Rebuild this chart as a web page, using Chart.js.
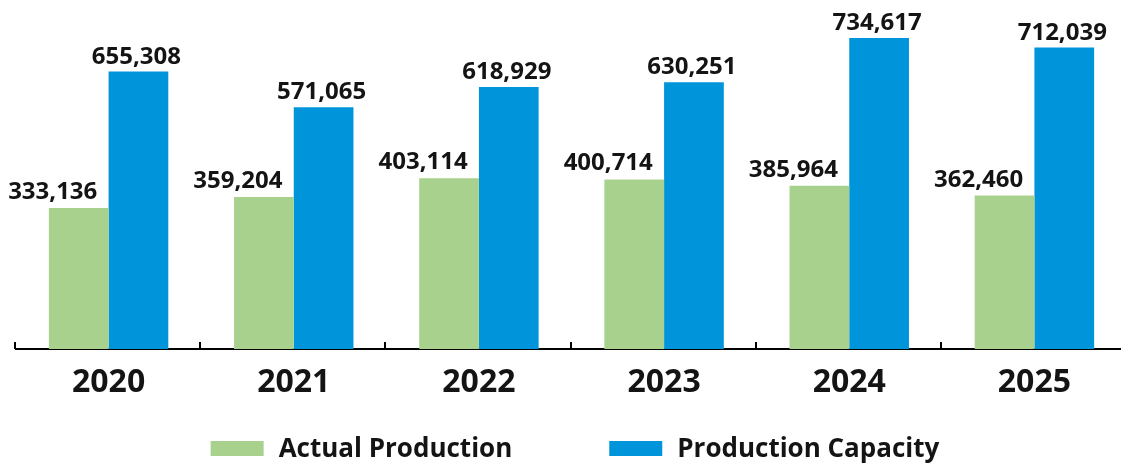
<!DOCTYPE html>
<html>
<head>
<meta charset="utf-8">
<script src="https://cdn.jsdelivr.net/npm/chart.js@4.4.1/dist/chart.umd.min.js"></script>
<style>
  html, body { margin: 0; padding: 0; background: #ffffff; overflow: hidden; }
  #wrap { width: 1150px; height: 464px; position: relative; }
</style>
</head>
<body>
<div id="wrap"><canvas id="c"></canvas></div>
<script>
const categories = ['2020', '2021', '2022', '2023', '2024', '2025'];
const actualProduction = [333136, 359204, 403114, 400714, 385964, 362460];
const productionCapacity = [655308, 571065, 618929, 630251, 734617, 712039];
const seriesNames = ['Actual Production', 'Production Capacity'];
const seriesColors = ['#A9D18E', '#0095DA'];

const FONT = '"Open Sans", "Noto Sans", sans-serif';
const TEXT = '#141414';

const labelPlugin = {
  id: 'valueLabels',
  afterDatasetsDraw(chart) {
    const ctx = chart.ctx;
    ctx.save();
    ctx.font = '700 24px ' + FONT;
    ctx.fillStyle = TEXT;
    ctx.textAlign = 'center';
    ctx.textBaseline = 'alphabetic';
    const offs = [{dx: -26, dy: 9}, {dx: -2, dy: 8}];
    chart.data.datasets.forEach((ds, di) => {
      const meta = chart.getDatasetMeta(di);
      meta.data.forEach((bar, i) => {
        const v = ds.data[i];
        ctx.fillText(v.toLocaleString('en-US'), bar.x + offs[di].dx, bar.y - offs[di].dy);
      });
    });
    ctx.restore();
  }
};

const axisTicksPlugin = {
  id: 'axisTicks',
  afterDraw(chart) {
    const ctx = chart.ctx;
    const xs = chart.scales.x;
    const n = categories.length;
    const step = xs.getPixelForValue(1) - xs.getPixelForValue(0);
    const y = chart.chartArea.bottom;
    ctx.save();
    ctx.strokeStyle = '#000000';
    ctx.lineWidth = 2;
    for (let i = 0; i <= n; i++) {
      const x = Math.round(xs.getPixelForValue(0) - step / 2 + i * step) - 1;
      ctx.beginPath();
      ctx.moveTo(x, y);
      ctx.lineTo(x, y - 7);
      ctx.stroke();
    }
    ctx.restore();
  }
};

const legendPlugin = {
  id: 'customLegend',
  afterDraw(chart) {
    const ctx = chart.ctx;
    ctx.save();
    ctx.font = '700 26px ' + FONT;
    const boxW = 53, boxH = 15, textGap = 15, itemGap = 97;
    const widths = seriesNames.map(t => boxW + textGap + ctx.measureText(t).width);
    const total = widths.reduce((a, b) => a + b, 0) + itemGap * (widths.length - 1);
    let x = chart.width / 2 - total / 2;
    const boxTop = 441, baseline = 457;
    seriesNames.forEach((t, i) => {
      ctx.fillStyle = seriesColors[i];
      ctx.fillRect(x, boxTop, boxW, boxH);
      ctx.fillStyle = TEXT;
      ctx.textAlign = 'left';
      ctx.textBaseline = 'alphabetic';
      ctx.fillText(t, x + boxW + textGap, baseline);
      x += widths[i] + itemGap;
    });
    ctx.restore();
  }
};

new Chart(document.getElementById('c'), {
  type: 'bar',
  data: {
    labels: categories,
    datasets: [
      { label: seriesNames[0], data: actualProduction, backgroundColor: seriesColors[0], borderWidth: 0 },
      { label: seriesNames[1], data: productionCapacity, backgroundColor: seriesColors[1], borderWidth: 0 }
    ]
  },
  options: {
    responsive: true,
    maintainAspectRatio: false,
    animation: false,
    events: [],
    layout: { padding: { left: 16, right: 23, top: 0, bottom: 0 } },
    datasets: { bar: { categoryPercentage: 0.645, barPercentage: 1.0 } },
    plugins: {
      legend: { display: false },
      tooltip: { enabled: false },
      title: { display: false }
    },
    scales: {
      x: {
        grid: { display: false, drawTicks: false },
        border: { display: true, color: '#000000', width: 2 },
        ticks: {
          color: TEXT,
          font: { family: FONT, size: 32, weight: '700' },
          padding: 15,
          maxRotation: 0
        },
        afterFit(scale) { scale.height = 115; }
      },
      y: {
        display: false,
        min: 0,
        max: 824500
      }
    }
  },
  plugins: [labelPlugin, axisTicksPlugin, legendPlugin]
});
</script>
</body>
</html>
